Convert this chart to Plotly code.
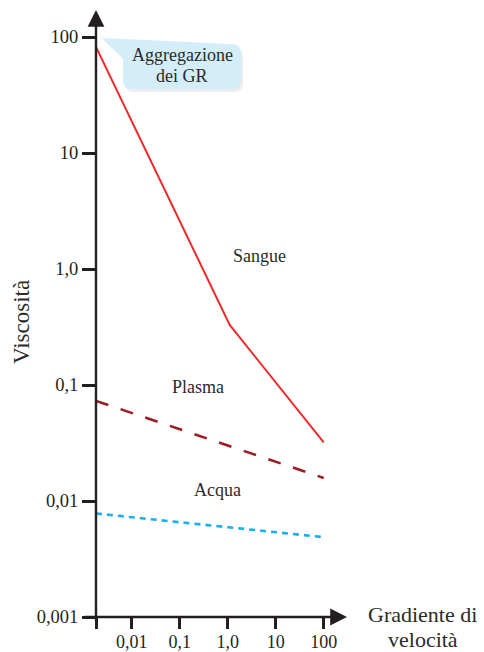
import numpy as np
import plotly.graph_objects as go

# ---- data ----
x_ticks = [0.00181, 0.01, 0.1, 1.0, 10, 100]
x_tick_labels = ["", "0,01", "0,1", "1,0", "10", "100"]
y_ticks = [0.001, 0.01, 0.1, 1.0, 10, 100]
y_tick_labels = ["0,001", "0,01", "0,1", "1,0", "10", "100"]

sangue_x = [0.0018, 1.1, 100]
sangue_y = [82, 0.33, 0.032]
plasma_x = [0.0018, 100]
plasma_y = [0.073, 0.0158]
acqua_x = [0.0018, 90]
acqua_y = [0.0078, 0.0049]

W, H = 484, 652
L, R, T, B = 96, 347, 10, 617
XR = [-2.744, -2.744 + (R - L) / 48.0]
YR = [-3.0, -3.0 + (B - T) / 116.0]

FONT = "Liberation Serif"
INK = "#231f20"
TXT = "#2b2b2b"

def px(x, y):
    return (x - L) / (R - L), (B - y) / (B - T)

fig = go.Figure()
fig.add_trace(go.Scatter(x=sangue_x, y=sangue_y, mode="lines",
                         line=dict(color="#ee2a2a", width=2), name="Sangue"))
fig.add_trace(go.Scatter(x=plasma_x, y=plasma_y, mode="lines",
                         line=dict(color="#9e1a20", width=2.5, dash="13px,13px"), name="Plasma"))
fig.add_trace(go.Scatter(x=acqua_x, y=acqua_y, mode="lines",
                         line=dict(color="#1ab0ea", width=2.6, dash="6px,5px"), name="Acqua"))

def path_from(cmds):
    s = ""
    for c, pts in cmds:
        s += c
        for (a, b) in pts:
            fx, fy = px(a, b)
            s += f" {fx:.5f},{fy:.5f}"
        s += " "
    return s

def bubble(dx=0, dy=0):
    l, r, t, b, rr = 123 + dx, 241 + dx, 44 + dy, 89 + dy, 9
    return path_from([
        ("M", [(102 + dx, 38 + dy)]),
        ("L", [(r - rr, t)]),
        ("Q", [(r, t), (r, t + rr)]),
        ("L", [(r, b - rr)]),
        ("Q", [(r, b), (r - rr, b)]),
        ("L", [(l + rr, b)]),
        ("Q", [(l, b), (l, b - rr)]),
        ("L", [(l, 58 + dy)]),
        ("Z", []),
    ])

shapes = [
    dict(type="path", xref="paper", yref="paper", path=bubble(2, 3),
         fillcolor="rgba(0,0,0,0.07)", line=dict(width=0), layer="below"),
    dict(type="path", xref="paper", yref="paper", path=bubble(),
         fillcolor="#d4eef9", line=dict(width=0), layer="below"),
]

annotations = []
# axis arrows
annotations.append(dict(xref="paper", yref="paper", x=0, y=1, ax=0, ay=B - T + 5,
                        axref="pixel", ayref="pixel", showarrow=True, arrowhead=2,
                        arrowsize=1.4, arrowwidth=2.4, arrowcolor=INK, text=""))
annotations.append(dict(xref="paper", yref="paper", x=1, y=0, ax=-(R - L) - 13, ay=0,
                        axref="pixel", ayref="pixel", showarrow=True, arrowhead=2,
                        arrowsize=1.4, arrowwidth=2.4, arrowcolor=INK, text=""))

def lab(text, x, y, size=18, xanchor="center", angle=0):
    fx, fy = px(x, y)
    annotations.append(dict(xref="paper", yref="paper", x=fx, y=fy, text=text,
                            showarrow=False, xanchor=xanchor, yanchor="middle",
                            textangle=angle,
                            font=dict(family=FONT, size=size, color=TXT)))

lab("Sangue", 259, 256)
lab("Plasma", 198, 387)
lab("Acqua", 217, 490)
lab("Aggregazione", 182, 55)
lab("dei GR", 182, 76)
lab("Gradiente di", 422, 614, size=22)
lab("velocità", 423, 639, size=22)
lab("Viscosità", 21, 322, size=23, angle=-90)

fig.update_layout(
    width=W, height=H,
    margin=dict(l=L, r=W - R, t=T, b=H - B, autoexpand=False),
    paper_bgcolor="white", plot_bgcolor="white",
    showlegend=False,
    shapes=shapes, annotations=annotations,
    xaxis=dict(type="log", range=XR, tickvals=x_ticks, ticktext=x_tick_labels,
               ticks="outside", ticklen=11, tickwidth=2.5, tickcolor=INK,
               ticklabelstandoff=-3,
               showgrid=False, zeroline=False, showline=False, automargin=False,
               tickfont=dict(family=FONT, size=18, color=INK)),
    yaxis=dict(type="log", range=YR, tickvals=y_ticks, ticktext=y_tick_labels,
               ticks="outside", ticklen=13, tickwidth=2.5, tickcolor=INK,
               showgrid=False, zeroline=False, showline=False, automargin=False,
               tickfont=dict(family=FONT, size=18.5, color=INK)),
)

fig.write_html("out.html", config={"displayModeBar": False},
               post_script="document.body.style.margin='0';document.body.style.overflow='hidden';")
